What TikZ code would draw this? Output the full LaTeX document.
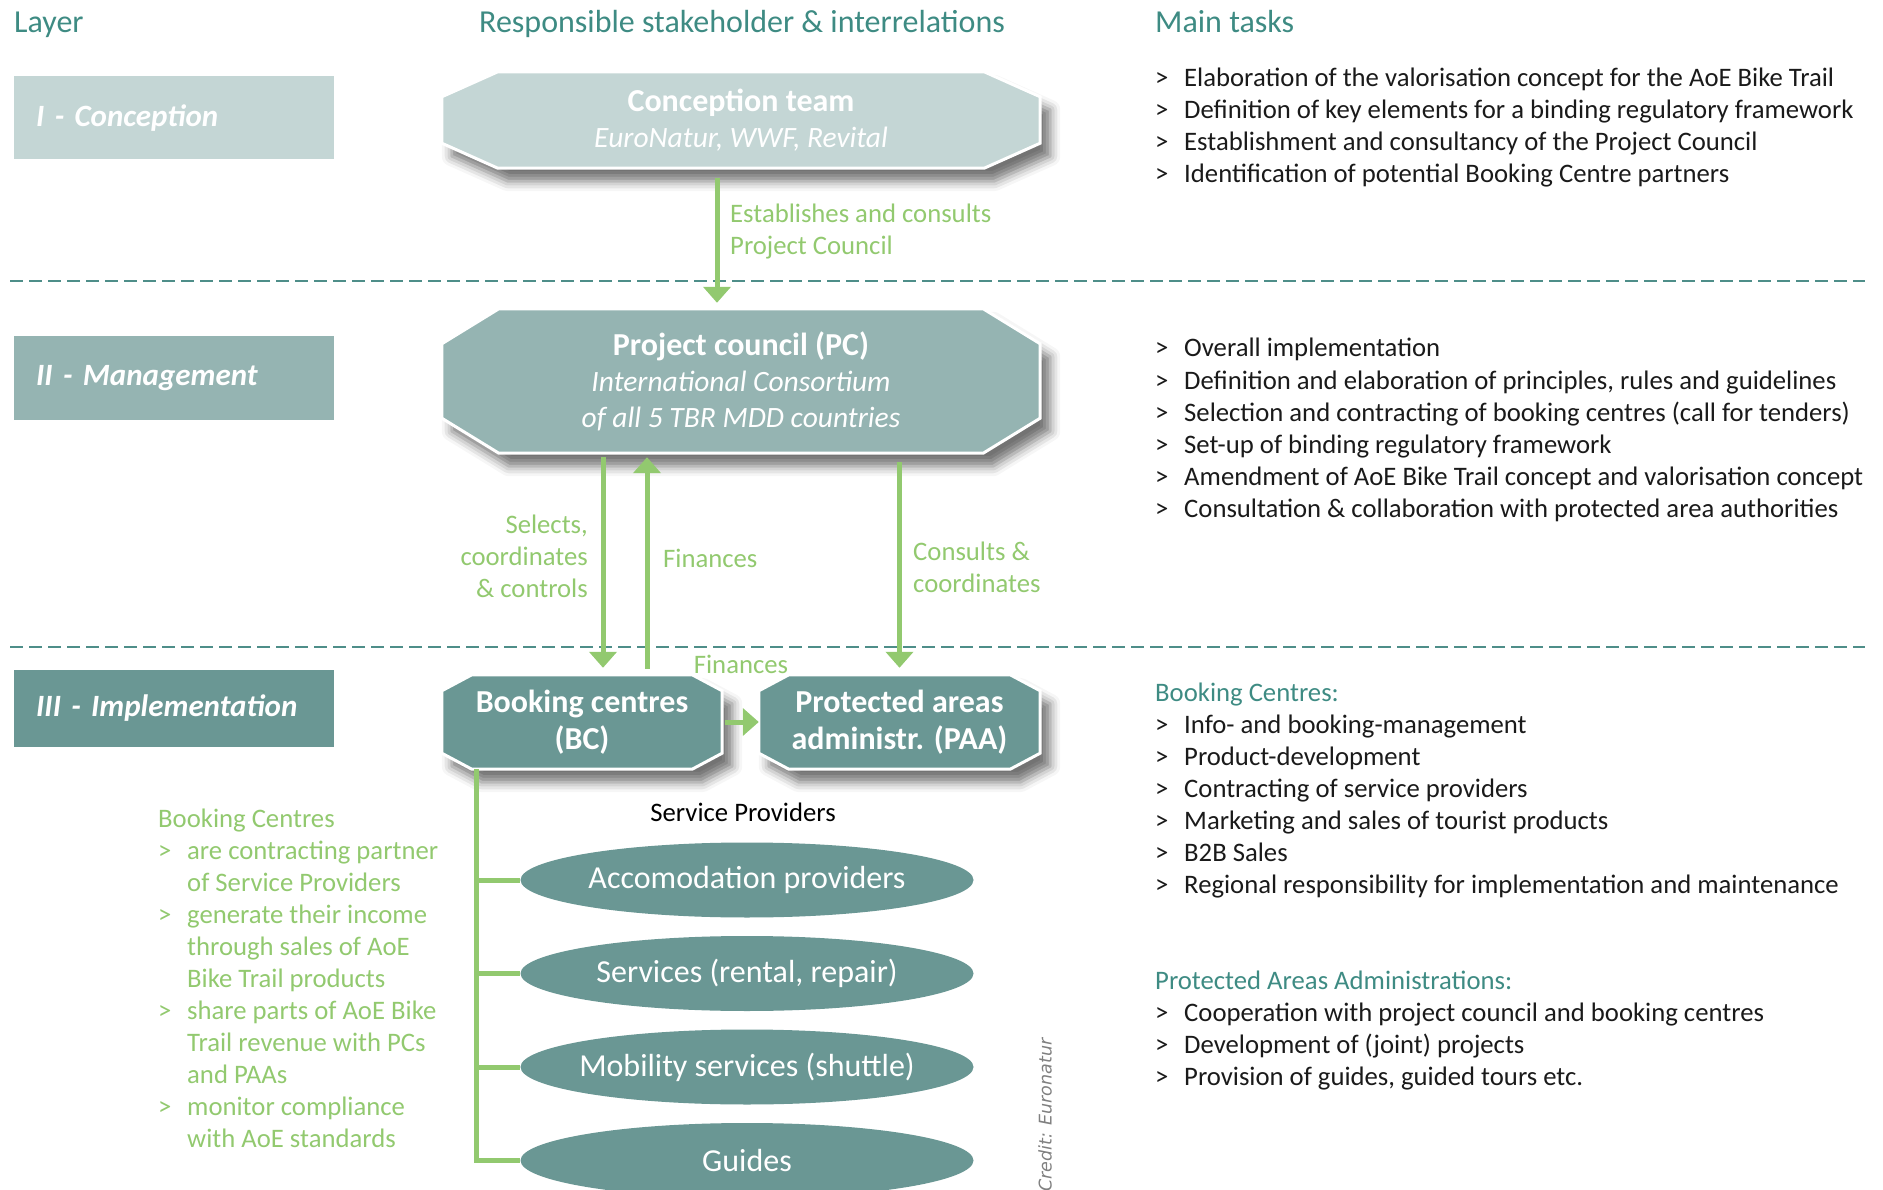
\documentclass[tikz,border=0pt]{standalone}
\usepackage{fontspec}
\setmainfont{Carlito}
\newfontfamily\creditfont{DejaVu Sans}
\usetikzlibrary{arrows.meta, positioning, shapes.geometric, shadows.blur, backgrounds}

\definecolor{headteal}{HTML}{3E8B83}
\definecolor{confill}{HTML}{C4D6D5}
\definecolor{manfill}{HTML}{95B4B2}
\definecolor{impfill}{HTML}{6A9794}
\definecolor{flowgreen}{HTML}{92C96F}
\definecolor{septeal}{HTML}{4E8E89}
\definecolor{tasktext}{HTML}{1A1A1A}

\newcommand{\bul}{\makebox[29pt][l]{>}}
\newcommand{\ind}{\hspace*{29pt}}

\tikzset{
  head/.style={anchor=west, inner sep=0pt, text height=23pt, text depth=7pt, text=headteal, font=\fontsize{32}{36}\selectfont},
  layer/.style={anchor=west, text width=276pt, inner xsep=22pt, inner ysep=0pt, minimum height=83pt, align=left, text=white, font=\fontsize{31}{36}\selectfont\bfseries\itshape},
  octo/.style={inner sep=0pt, align=center, text=white, font=\fontsize{29.5}{36}\selectfont},
  octoshape/.style={draw=white, line width=3pt, blur shadow={shadow xshift=10pt, shadow yshift=-13pt, shadow blur radius=10pt, shadow opacity=55}},
  flow/.style={draw=flowgreen, line width=5pt, -{Triangle[width=27pt, length=16pt]}},
  spine/.style={draw=flowgreen, line width=5pt},
  sep/.style={draw=septeal, line width=2.5pt, dash pattern=on 13pt off 6pt},
  glabel/.style={inner sep=0pt, text=flowgreen, font=\fontsize{26.7}{32}\selectfont},
  task/.style={anchor=west, inner sep=0pt, text height=21pt, text depth=5pt, text=tasktext, font=\fontsize{26.7}{32}\selectfont},
  note/.style={task, text=flowgreen},
  provider/.style={ellipse, fill=impfill, minimum width=453pt, minimum height=75pt, inner sep=0pt, text=white, font=\fontsize{32}{36}\selectfont},
}

\begin{document}
\begin{tikzpicture}[x=1pt, y=-1pt]
    \useasboundingbox (0,0) rectangle (1883,1190);

    % headings
    \node[head] (hlayer) at (14,25) {Layer};
    \node[head] (hresp) at (479,25) {Responsible stakeholder \& interrelations};
    \node[head] (htask) at (1155,25) {Main tasks};

    % layers
    \node[layer, fill=confill] (l1) at (14,118) {I - Conception};
    \node[layer, fill=manfill] (l2) at (14,378) {II - Management};
    \node[layer, fill=impfill, minimum height=77pt] (l3) at (14,708) {III - Implementation};

    \draw[sep] (10,281) -- (1865,281);
    \draw[sep] (10,647) -- (1865,647);

    % stakeholders
    \node[octo, minimum width=598pt, minimum height=96pt] (ct) at (741,120)
        {{\fontsize{32}{36}\selectfont\bfseries Conception team}\\\textit{EuroNatur, WWF, Revital}};
    \node[octo, minimum width=598pt, minimum height=144pt] (pc) at (741,381)
        {{\fontsize{32}{36}\selectfont\bfseries Project council (PC)}\\\textit{International Consortium}\\\textit{of all 5 TBR MDD countries}};
    \node[octo, minimum width=280pt, minimum height=94pt, font=\fontsize{32}{37}\selectfont\bfseries] (bc) at (582,722)
        {Booking centres\\(BC)};
    \node[octo, minimum width=281pt, minimum height=94pt, font=\fontsize{32}{37}\selectfont\bfseries] (paa) at (899.5,722)
        {Protected areas\\administr. (PAA)};

    \begin{scope}[on background layer]
        \foreach \n/\dx/\dy/\col in {ct/56/25/confill, pc/57/35/manfill, bc/30/16/impfill, paa/30/16/impfill}
            \draw[octoshape, fill=\col]
                ([xshift=\dx pt]\n.north west) -- ([xshift=-\dx pt]\n.north east)
                -- ([yshift=-\dy pt]\n.north east) -- ([yshift=\dy pt]\n.south east)
                -- ([xshift=-\dx pt]\n.south east) -- ([xshift=\dx pt]\n.south west)
                -- ([yshift=\dy pt]\n.south west) -- ([yshift=-\dy pt]\n.north west) -- cycle;
    \end{scope}

    % interrelations
    \coordinate (estab) at ([xshift=-24pt]ct.south);
    \draw[flow, shorten <=10pt, shorten >=6pt] (estab) -- (estab |- pc.north);
    \coordinate (select) at ([xshift=21pt]bc.north);
    \draw[flow, shorten <=4pt, shorten >=7pt] (select |- pc.south) -- (select);
    \coordinate (fin) at ([xshift=65pt]bc.north);
    \draw[flow, shorten <=6pt, shorten >=4pt] (fin) -- (fin |- pc.south);
    \draw[flow, shorten <=9pt, shorten >=7pt] (paa.north |- pc.south) -- (paa.north);
    \draw[flow, shorten <=3pt] (bc.east) -- (paa.west);

    \node[glabel, anchor=west, align=left] (lestab) at (730,232) {Establishes and consults\\Project Council};
    \node[glabel, anchor=east, align=right] (lselect) at (588,556) {Selects,\\coordinates\\\& controls};
    \node[glabel, anchor=west] (lfin) at (663,558) {Finances};
    \node[glabel, anchor=west, align=left] (lcons) at (913,567) {Consults \&\\coordinates};
    \node[glabel] (lfin2) at (741,664) {Finances};

    % service providers
    \node[task, anchor=center, text=black, font=\fontsize{26.7}{30}\selectfont] (spl) at (743,813) {Service Providers};
    \foreach \t [count=\i] in {Accomodation providers, {Services (rental, repair)}, Mobility services (shuttle), Guides}
        \node[provider] (sp\i) at (747, {880+93.5*(\i-1)}) {\makebox[0pt]{\t}};
    \coordinate (spinetop) at ([xshift=35pt]bc.south west);
    \draw[spine] (spinetop) |- (sp4.west);
    \foreach \i in {1,2,3}
        \draw[spine] (spinetop |- sp\i.west) -- (sp\i.west);

    % booking centre notes
    \foreach \t [count=\i from 0] in {Booking Centres, \bul are contracting partner, \ind of Service Providers,
        \bul generate their income, \ind through sales of AoE, \ind Bike Trail products,
        \bul share parts of AoE Bike, \ind Trail revenue with PCs, \ind and PAAs,
        \bul monitor compliance, \ind with AoE standards}
        \node[note] (bcn\i) at (158, {819+32*\i}) {\t};

    % main tasks
    \foreach \t [count=\i from 0] in {Elaboration of the valorisation concept for the AoE Bike Trail,
        Definition of key elements for a binding regulatory framework,
        Establishment and consultancy of the Project Council,
        Identification of potential Booking Centre partners}
        \node[task] (ta\i) at (1155, {79+32*\i}) {\bul\t};
    \foreach \t [count=\i from 0] in {Overall implementation,
        {Definition and elaboration of principles, rules and guidelines},
        Selection and contracting of booking centres (call for tenders),
        Set-up of binding regulatory framework,
        Amendment of AoE Bike Trail concept and valorisation concept,
        Consultation \& collaboration with protected area authorities}
        \node[task] (tb\i) at (1155, {349+32*\i}) {\bul\t};
    \node[task, text=headteal] (tchead) at (1155,693) {Booking Centres:};
    \foreach \t [count=\i from 0] in {Info- and booking-management, Product-development,
        Contracting of service providers, Marketing and sales of tourist products, B2B Sales,
        Regional responsibility for implementation and maintenance}
        \node[task] (tc\i) at (1155, {725+32*\i}) {\bul\t};
    \node[task, text=headteal] (tdhead) at (1155,981) {Protected Areas Administrations:};
    \foreach \t [count=\i from 0] in {Cooperation with project council and booking centres,
        Development of (joint) projects, {Provision of guides, guided tours etc.}}
        \node[task] (td\i) at (1155, {1013+32*\i}) {\bul\t};

    \node[rotate=90, inner sep=0pt, text=gray, font=\creditfont\fontsize{17.5}{20}\selectfont\itshape] (credit) at (1045,1115) {Credit: Euronatur};
\end{tikzpicture}
\end{document}
